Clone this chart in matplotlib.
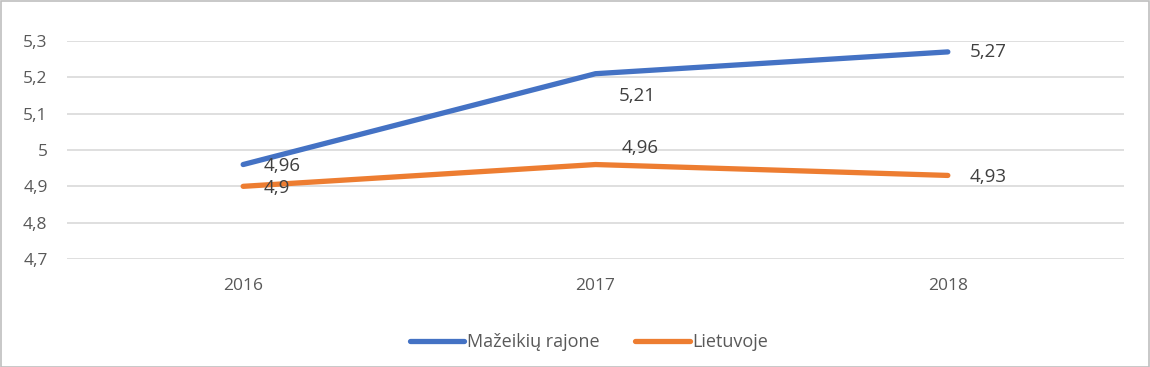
import matplotlib
matplotlib.use("Agg")
import matplotlib.pyplot as plt
from matplotlib.patches import Rectangle

years = ["2016", "2017", "2018"]
mazeikiai = [4.96, 5.21, 5.27]
lietuva = [4.90, 4.96, 4.93]
yticks = [4.7, 4.8, 4.9, 5.0, 5.1, 5.2, 5.3]
ytick_labels = ["4,7", "4,8", "4,9", "5", "5,1", "5,2", "5,3"]
series_names = ["Mažeikių rajone", "Lietuvoje"]

W, H = 1150, 367
fig = plt.figure(figsize=(W / 100, H / 100), dpi=100)
plt.rcParams['font.family'] = ['Open Sans', 'DejaVu Sans']

ax = fig.add_axes([67 / W, 1 - 259 / H, (1124 - 67) / W, (259 - 41) / H])
x = list(range(len(years)))
blue, orange = "#4472C4", "#ED7D31"
l1, = ax.plot(x, mazeikiai, color=blue, lw=3.8, solid_capstyle="round", zorder=3)
l2, = ax.plot(x, lietuva, color=orange, lw=3.8, solid_capstyle="round", zorder=3)

ax.set_xlim(-0.5, 2.5)
ax.set_ylim(4.7, 5.3)
ax.set_yticks(yticks)
ax.set_yticklabels(ytick_labels)
ax.set_xticks(x)
ax.set_xticklabels(years)
ax.tick_params(axis="both", length=0, labelsize=12.5, colors="#595959")
ax.tick_params(axis="y", pad=14)
ax.tick_params(axis="x", pad=14)
ax.grid(axis="y", color="#D9D9D9", lw=1.2)
ax.set_axisbelow(True)
for s in ax.spines.values():
    s.set_visible(False)

def fmt(v):
    return f"{v:g}".replace(".", ",")

blue_offsets = [(15, -1), (17, -16), (16, 0)]
orange_offsets = [(15, -1), (19, 12), (16, -1)]
for xi, v, off in zip(x, mazeikiai, blue_offsets):
    ax.annotate(fmt(v), (xi, v), xytext=off, textcoords="offset points",
                ha="left", va="center", fontsize=13.5, color="#404040", zorder=4)
for xi, v, off in zip(x, lietuva, orange_offsets):
    ax.annotate(fmt(v), (xi, v), xytext=off, textcoords="offset points",
                ha="left", va="center", fontsize=13.5, color="#404040", zorder=4)

fig.legend([l1, l2], series_names, loc="center", bbox_to_anchor=(589 / W, 1 - 342 / H),
           ncol=2, frameon=False, fontsize=13, handlelength=3.0, handletextpad=0.15,
           columnspacing=2.0, labelcolor="#595959")

fig.patches.append(Rectangle((0.5 / W, 0.5 / H), 1 - 1.5 / W, 1 - 1.5 / H,
                             transform=fig.transFigure, fill=False,
                             edgecolor="#BFBFBF", lw=1.2))
fig.savefig("out.png", dpi=100)
